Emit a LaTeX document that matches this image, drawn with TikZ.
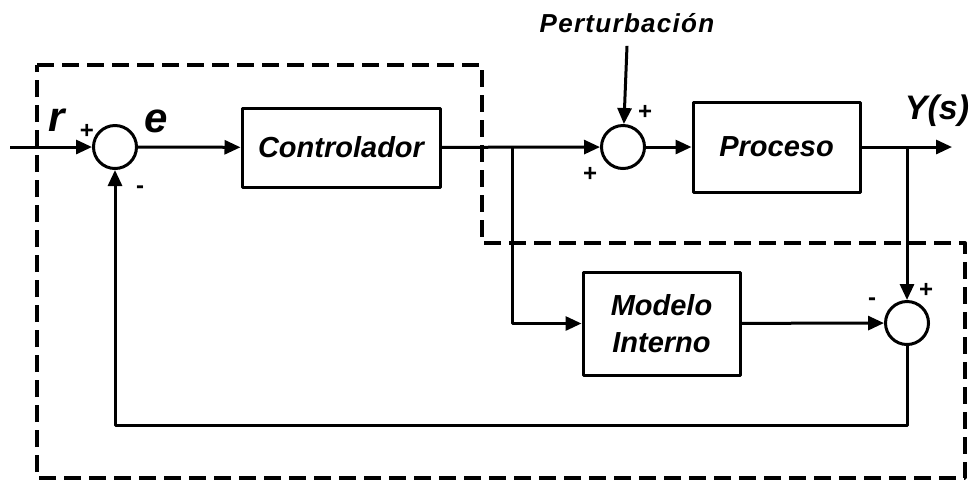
\documentclass[tikz,border=0pt]{standalone}
\usepackage{fontspec}
\setmainfont{Liberation Sans}
\usetikzlibrary{arrows.meta,positioning}
\begin{document}
\begin{tikzpicture}[x=.5pt,y=-.5pt,line join=round,line width=1.5pt,>={Triangle[length=8pt,width=7pt]},
	font=\bfseries\itshape\fontsize{14.5}{18.5}\selectfont,
	blk/.style={draw,align=center,inner sep=2pt},
	sum/.style={draw,circle,minimum size=21.5pt,inner sep=0pt},
	sgn/.style={font=\bfseries\fontsize{12}{12}\selectfont},
	big/.style={font=\bfseries\itshape\fontsize{21}{21}\selectfont}]
	\useasboundingbox (0,0) rectangle (973,484);
	% blocks and summing points
	\node[sum] (s1) at (115,147) {};
	\node[blk,minimum width=99pt,minimum height=39.5pt] (ctrl) at (341,147.5) {Controlador};
	\node[sum] (s2) at (623,147) {};
	\node[blk,minimum width=83.5pt,minimum height=45pt] (proc) at (776.5,147) {Proceso};
	\node[blk,minimum width=78.5pt,minimum height=51.5pt] (mod) at (661.5,323.5) {Modelo\\Interno};
	\node[sum] (s3) at (907,323) {};
	% labels
	\node[big] (r) at (57,120) {r};
	\node[big] (e) at (156,121) {e};
	\node[font=\bfseries\itshape\fontsize{17}{17}\selectfont] (y) at (937,111) {Y(s)};
	\node[font=\bfseries\itshape\fontsize{13}{13}\selectfont\addfontfeatures{LetterSpace=5}] (pert) at (627,23) {Perturbación};
	\foreach \x/\y/\g [count=\i] in {87/131/+,140/190/-,645/112/+,590/174/+,926/290/+,872/302/-}\path(\x,\y)node[sgn](sg\i){\g};
	% connectors
	\coordinate (in) at (10,147);
	\coordinate (b1) at (512,147);
	\coordinate (b2) at (907,147);
	\coordinate (out) at (952,147);
	\coordinate (fb) at (907,425);
	\draw[->] (in)--(s1);
	\draw[->] (s1)--(ctrl);
	\draw[->] (ctrl)--(s2);
	\draw[->] (b1)|-(mod);
	\draw[->] (pert.south)++(0,5)--(s2);
	\draw[->] (s2)--(proc);
	\draw[->] (proc)--(out);
	\draw[->] (b2)--(s3);
	\draw[->] (mod)--(s3);
	\draw[->] (s3)--(fb)-|(s1);
	\draw[line width=1.7pt,dash pattern=on 8.5pt off 4pt]
	(37,65)--(482,65)--(482,243)--(965,243)--(965,478)--(37,478)--cycle;
\end{tikzpicture}
\end{document}
